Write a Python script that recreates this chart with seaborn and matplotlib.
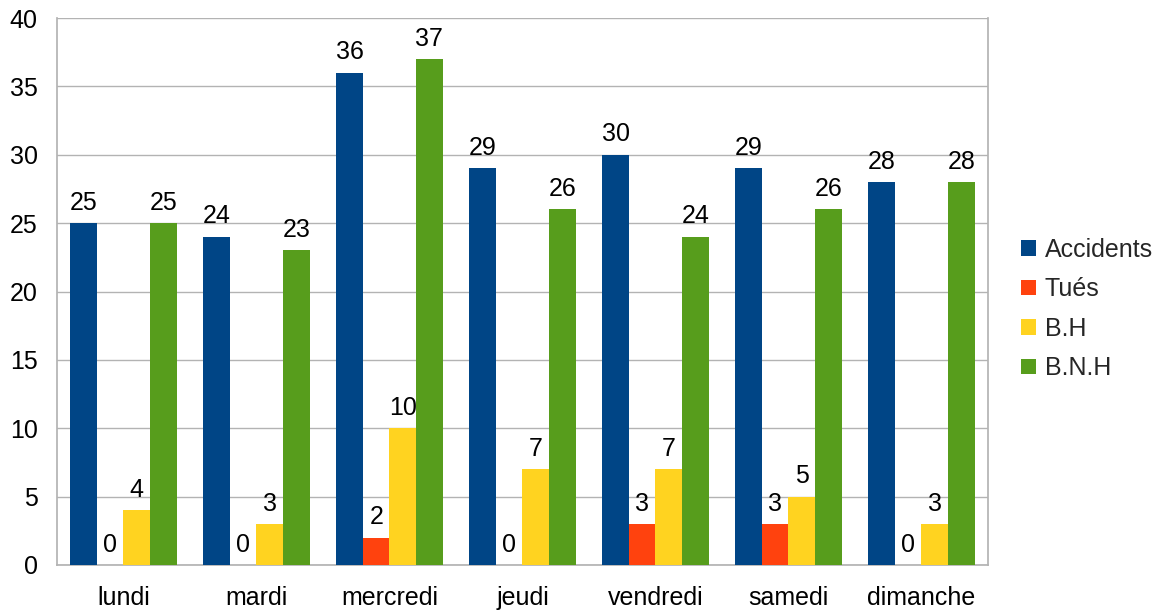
import matplotlib
matplotlib.use("Agg")
import matplotlib.pyplot as plt
import seaborn as sns
import pandas as pd
import numpy as np

days = ["lundi", "mardi", "mercredi", "jeudi", "vendredi", "samedi", "dimanche"]
accidents = [25, 24, 36, 29, 30, 29, 28]
tues = [0, 0, 2, 0, 3, 3, 0]
bh = [4, 3, 10, 7, 7, 5, 3]
bnh = [25, 23, 37, 26, 24, 26, 28]
series = ["Accidents", "Tués", "B.H", "B.N.H"]
colors = ["#004586", "#ff420e", "#ffd320", "#579d1c"]

rows = []
for name, vals in zip(series, [accidents, tues, bh, bnh]):
    for d, v in zip(days, vals):
        rows.append({"jour": d, "serie": name, "valeur": v})
df = pd.DataFrame(rows)

sns.set_theme(style="white")
plt.rcParams["font.family"] = ["Liberation Sans", "DejaVu Sans"]

FS = 18
fig = plt.figure(figsize=(11.68, 6.14), dpi=100)
ax = fig.add_axes([57 / 1168, 49 / 614, 931 / 1168, 547 / 614])

sns.barplot(data=df, x="jour", y="valeur", hue="serie", order=days,
            hue_order=series, palette=colors, width=0.8, saturation=1,
            ax=ax, zorder=3, linewidth=0)

for cont in ax.containers:
    ax.bar_label(cont, fmt="%d", padding=6, fontsize=FS, color="black")

ax.set_ylim(0, 40)
ax.set_xlim(-0.5, 6.5)
ax.set_yticks(np.arange(0, 41, 5))
ax.yaxis.grid(True, color="#b3b3b3", linewidth=1, zorder=0)
ax.set_axisbelow(True)
ax.set_xlabel("")
ax.set_ylabel("")
ax.tick_params(axis="y", labelsize=FS, length=9, width=1, color="#b3b3b3",
               direction="out", pad=5, colors="black")
ax.tick_params(axis="y", color="#b3b3b3")
ax.tick_params(axis="x", labelsize=FS, length=0, pad=15, colors="black")
ax.set_xticks(np.arange(-0.5, 7, 1), minor=True)
ax.tick_params(axis="x", which="minor", length=8, width=1, color="#b3b3b3", direction="out")

ax.spines["top"].set_visible(False)
for s in ["right", "left", "bottom"]:
    ax.spines[s].set_color("#b3b3b3")

leg = ax.legend(loc="center left", bbox_to_anchor=(1021 / 1168, 1 - 309 / 614),
                bbox_transform=fig.transFigure, frameon=False, borderaxespad=0,
                borderpad=0, fontsize=FS, handlelength=0.6, handleheight=0.6,
                labelspacing=0.62, handletextpad=0.35)

fig.savefig("out.png", dpi=100)
